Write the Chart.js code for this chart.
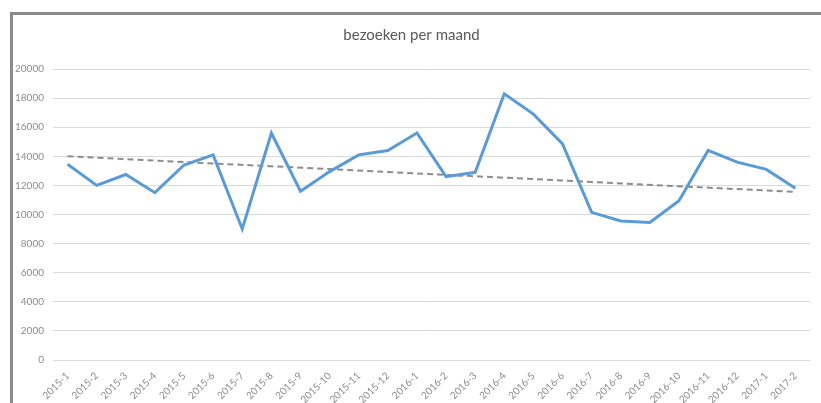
<!DOCTYPE html>
<html>
<head>
<meta charset="utf-8">
<script src="https://cdn.jsdelivr.net/npm/chart.js@4"></script>
<style>
    body { margin: 0; background: #fff; overflow: hidden; }
    #frame {
        position: absolute;
        left: 10px;
        top: 12px;
        width: 811px;
        height: 391px;
        border-left: 3px solid #8a8a8a;
        border-top: 3px solid #8a8a8a;
    }
    #chart1 { display: block; }
</style>
</head>
<body>
<div id="frame">
    <canvas id="chart1" width="808" height="388"></canvas>
</div>
<script>
var labelsChart1 = [
    '2015-1', '2015-2', '2015-3', '2015-4', '2015-5', '2015-6', '2015-7',
    '2015-8', '2015-9', '2015-10', '2015-11', '2015-12',
    '2016-1', '2016-2', '2016-3', '2016-4', '2016-5', '2016-6', '2016-7',
    '2016-8', '2016-9', '2016-10', '2016-11', '2016-12',
    '2017-1', '2017-2'
]

var bezoeken = [13450, 12000, 12750, 11500, 13400, 14100, 9000, 15600, 11600, 12950, 14100, 14400,
    15600, 12600, 12900, 18300, 16900, 14850, 10150, 9550, 9450, 10950, 14400, 13600,
    13100, 11800]

// trendline: only the two end values
var trend = [14000, null, null, null, null, null, null, null, null, null, null, null,
    null, null, null, null, null, null, null, null, null, null, null, null,
    null, 11550]

var dataChart1 = {
    labels: labelsChart1,
    datasets: [
        {
            label: "bezoeken",
            borderColor: '#5b9bd5',
            backgroundColor: '#5b9bd5',
            borderWidth: 3,
            pointRadius: 0,
            data: bezoeken,
            order: 1
        },
        {
            label: "trend",
            borderColor: '#8c8c8c',
            borderWidth: 2,
            borderDash: [6, 4],
            pointRadius: 0,
            spanGaps: true,
            data: trend,
            order: 2
        }
    ]
}

var configChart1 = {
    type: 'line',
    data: dataChart1,
    options: {
        responsive: false,
        animation: false,
        layout: {
            padding: { left: 0, right: 11, top: 0, bottom: 0 }
        },
        scales: {
            x: {
                offset: true,
                grid: { display: false },
                border: { display: false },
                ticks: {
                    color: '#8c8c8c',
                    font: { family: 'Lato', size: 10 },
                    minRotation: 45,
                    maxRotation: 45,
                    autoSkip: false,
                    padding: 2
                },
                afterFit: function(scale) { scale.height = 43; }
            },
            y: {
                min: 0,
                max: 20000,
                grid: { color: '#d9d9d9', drawTicks: false },
                border: { display: false },
                ticks: {
                    stepSize: 2000,
                    color: '#8c8c8c',
                    font: { family: 'Lato', size: 10 },
                    padding: 9,
                    callback: function(value) {
                        return String(value);
                    }
                },
                afterFit: function(scale) { scale.width = 40; }
            }
        },
        plugins: {
            legend: { display: false },
            tooltip: { enabled: false },
            title: {
                display: true,
                text: 'bezoeken per maand',
                color: '#595959',
                font: { family: 'Lato', size: 15, weight: 'normal' },
                padding: { top: 11, bottom: 25 }
            }
        }
    }
};

var chart1 = new Chart(
    document.getElementById('chart1'),
    configChart1
);
</script>
</body>
</html>
